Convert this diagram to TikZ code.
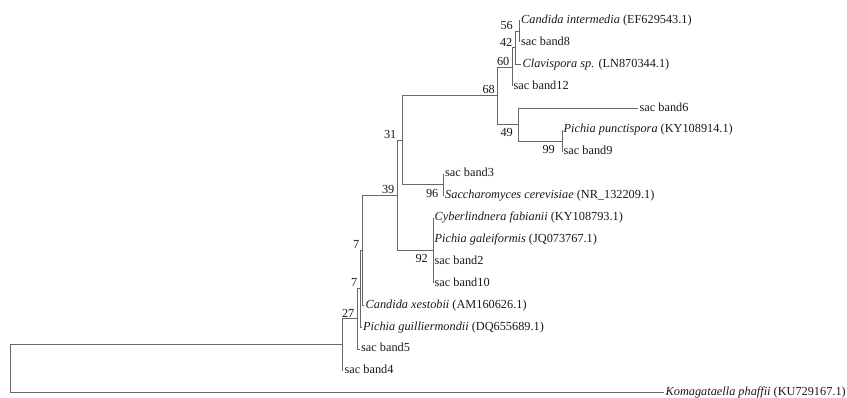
\documentclass[tikz,border=0pt]{standalone}
\usepackage{fontspec}
\setmainfont{Liberation Serif}

\begin{document}
\begin{tikzpicture}[x=1pt,y=-1pt,
  font=\fontsize{12.3}{14}\selectfont,
  branch/.style={black!60, line width=0.9pt},
  taxon/.style={anchor=west, inner sep=1.5pt, text height=8.5pt, text depth=2.5pt, text=black!90},
  bootup/.style={anchor=south east, inner sep=0pt, text=black!90, xshift=-2.5pt, yshift=1.5pt},
  bootdown/.style={anchor=north east, inner sep=0pt, text=black!90, xshift=-5pt, yshift=-4pt}]
  \useasboundingbox (0,0) rectangle (847,398);

  % Inner nodes of the tree
  \coordinate (root) at (10.5,368.9);
  \coordinate (nA) at (342.3,344.9);
  \coordinate (n27) at (357,318.9);
  \coordinate (n7a) at (360,288.7);
  \coordinate (n7b) at (362,250.3);
  \coordinate (n39) at (397,195.4);
  \coordinate (n31) at (402,140.3);
  \coordinate (n68) at (497.5,95.8);
  \coordinate (n60) at (512,67.1);
  \coordinate (n42) at (515,47.9);
  \coordinate (n56) at (519.5,31.5);
  \coordinate (n49) at (518,124.5);
  \coordinate (n99) at (562,141);
  \coordinate (n96) at (443.5,184.8);
  \coordinate (n92) at (433,250.5);

  % The taxa at the tips
  \node[taxon] (cint) at (519.5,20.5) {\textit{Candida intermedia} (EF629543.1)};
  \node[taxon] (band8) at (519.5,42.4) {sac band8};
  \node[taxon] (clav) at (521,64.3) {\textit{Clavispora sp.} (LN870344.1)};
  \node[taxon] (band12) at (512,86.2) {sac band12};
  \node[taxon] (band6) at (638,108.1) {sac band6};
  \node[taxon] (ppun) at (562,130) {\textit{Pichia punctispora} (KY108914.1)};
  \node[taxon] (band9) at (562,151.9) {sac band9};
  \node[taxon] (band3) at (443.5,173.8) {sac band3};
  \node[taxon] (scer) at (443.5,195.7) {\textit{Saccharomyces cerevisiae} (NR\_132209.1)};
  \node[taxon] (cfab) at (433,217.6) {\textit{Cyberlindnera fabianii} (KY108793.1)};
  \node[taxon] (pgal) at (433,239.5) {\textit{Pichia galeiformis} (JQ073767.1)};
  \node[taxon] (band2) at (433,261.4) {sac band2};
  \node[taxon] (band10) at (433,283.3) {sac band10};
  \node[taxon] (cxes) at (364,305.2) {\textit{Candida xestobii} (AM160626.1)};
  \node[taxon] (pgui) at (361.5,327.1) {\textit{Pichia guilliermondii} (DQ655689.1)};
  \node[taxon] (band5) at (359.5,349) {sac band5};
  \node[taxon] (band4) at (343,370.9) {sac band4};
  \node[taxon] (kpha) at (664,392.8) {\textit{Komagataella phaffii} (KU729167.1)};

  % Draw the branches
  \draw[branch] (root) |- (nA);
  \draw[branch] (root) |- (kpha.west);
  \draw[branch] (nA) |- (n27);
  \draw[branch] (nA) |- (band4.west);
  \draw[branch] (n27) |- (n7a);
  \draw[branch] (n27) |- (band5.west);
  \draw[branch] (n7a) |- (n7b);
  \draw[branch] (n7a) |- (pgui.west);
  \draw[branch] (n7b) |- (n39);
  \draw[branch] (n7b) |- (cxes.west);
  \draw[branch] (n39) |- (n31);
  \draw[branch] (n39) |- (n92);
  \draw[branch] (n31) |- (n68);
  \draw[branch] (n31) |- (n96);
  \draw[branch] (n68) |- (n60);
  \draw[branch] (n68) |- (n49);
  \draw[branch] (n60) |- (n42);
  \draw[branch] (n60) |- (band12.west);
  \draw[branch] (n42) |- (n56);
  \draw[branch] (n42) |- (clav.west);
  \draw[branch] (n56) |- (cint.west);
  \draw[branch] (n56) |- (band8.west);
  \draw[branch] (n49) |- (band6.west);
  \draw[branch] (n49) |- (n99);
  \draw[branch] (n99) |- (ppun.west);
  \draw[branch] (n99) |- (band9.west);
  \draw[branch] (n96) |- (band3.west);
  \draw[branch] (n96) |- (scer.west);
  \draw[branch] (n92) |- (cfab.west);
  \draw[branch] (n92) |- (pgal.west);
  \draw[branch] (n92) |- (band2.west);
  \draw[branch] (n92) |- (band10.west);

  % Bootstrap values
  \node[bootup, xshift=-4pt] (b56) at (n56) {56};
  \node[bootup] (b42) at (n42) {42};
  \node[bootup] (b60) at (n60) {60};
  \node[bootup] (b68) at (n68) {68};
  \node[bootup, xshift=-3pt] (b31) at (n31) {31};
  \node[bootup] (b39) at (n39) {39};
  \node[bootup] (b7b) at (n7b) {7};
  \node[bootup] (b7a) at (n7a) {7};
  \node[bootup] (b27) at (n27) {27};
  \node[bootdown] (b49) at (n49) {49};
  \node[bootdown, xshift=-2pt] (b99) at (n99) {99};
  \node[bootdown] (b96) at (n96) {96};
  \node[bootdown] (b92) at (n92) {92};
\end{tikzpicture}
\end{document}
